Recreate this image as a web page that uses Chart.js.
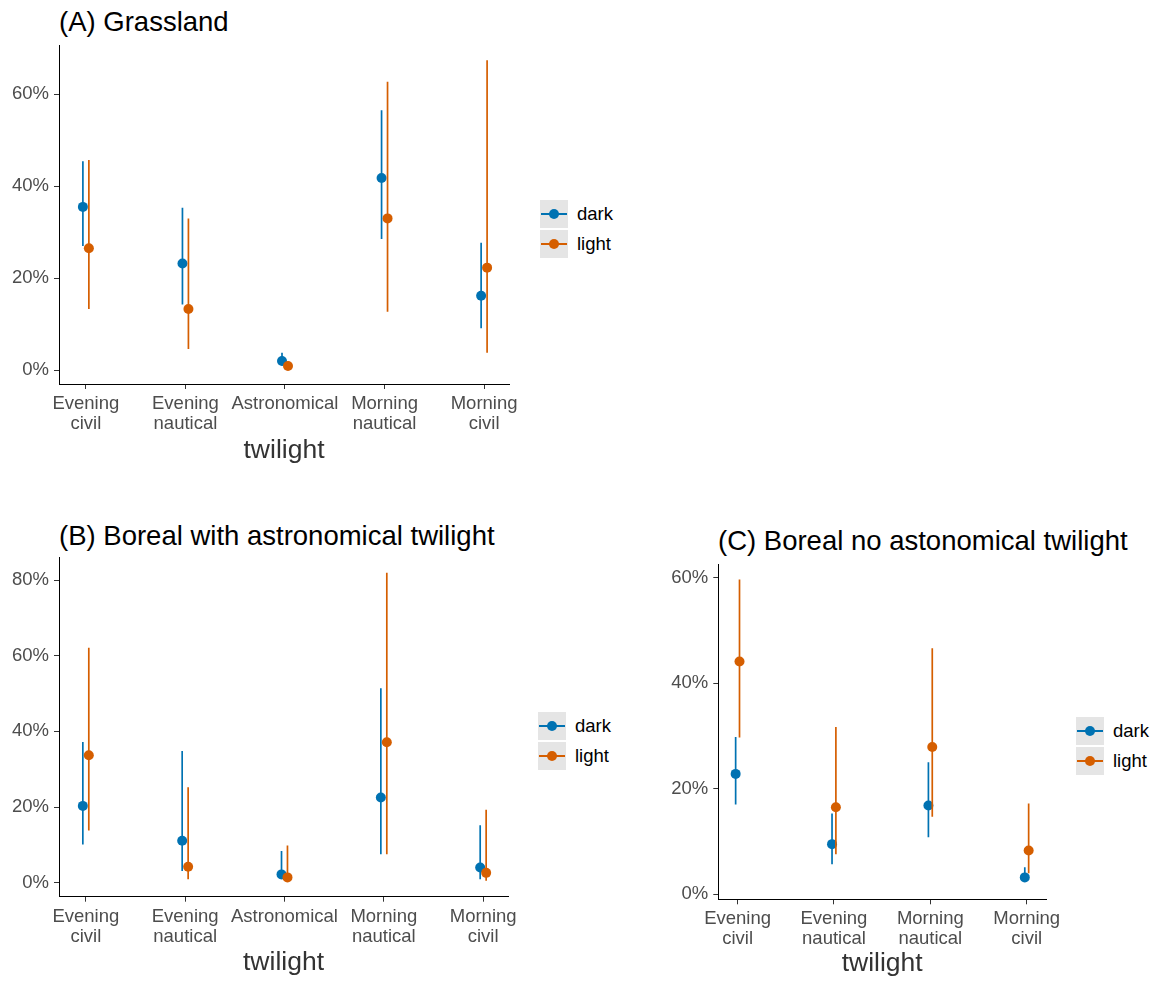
<!DOCTYPE html>
<html>
<head>
<meta charset="utf-8">
<script src="https://cdn.jsdelivr.net/npm/chart.js@4.4.1/dist/chart.umd.min.js"></script>
<style>
    body { margin: 0; background: #fff; }
    #page { position: relative; width: 1154px; height: 981px; overflow: hidden; font-family: "Liberation Sans", Arial, sans-serif; }
    canvas { position: absolute; }
    .title { position: absolute; font-size: 27.5px; line-height: 1; color: #000; white-space: nowrap; }
    .legend { position: absolute; }
    .legend-item { display: flex; align-items: center; height: 28px; margin-bottom: 2px; }
    .key { position: relative; width: 28px; height: 28px; background: #e5e5e5; }
    .key .kline { position: absolute; left: 1px; right: 1px; top: 13px; height: 2px; }
    .key .kdot { position: absolute; left: 9px; top: 9px; width: 10px; height: 10px; border-radius: 50%; }
    .legend-label { margin-left: 9px; font-size: 18.5px; color: #000; }
</style>
</head>
<body>
<div id="page">
    <div class="title" style="left:59px; top:8px;">(A) Grassland</div>
    <div class="title" style="left:59px; top:521.5px;">(B) Boreal with astronomical twilight</div>
    <div class="title" style="left:718px; top:527px;">(C) Boreal no astonomical twilight</div>

    <canvas id="chartA" width="530" height="475" style="left:0px; top:0px;"></canvas>
    <canvas id="chartB" width="530" height="481" style="left:0px; top:500px;"></canvas>
    <canvas id="chartC" width="420" height="441" style="left:650px; top:540px;"></canvas>

    <div class="legend" id="legendA" style="left:540px; top:200px;"></div>
    <div class="legend" id="legendB" style="left:538px; top:712px;"></div>
    <div class="legend" id="legendC" style="left:1076px; top:717px;"></div>
</div>

<script>
// categorias (eje x)
const twilightFive = [['Evening', 'civil'], ['Evening', 'nautical'], 'Astronomical', ['Morning', 'nautical'], ['Morning', 'civil']];
const twilightFour = [['Evening', 'civil'], ['Evening', 'nautical'], ['Morning', 'nautical'], ['Morning', 'civil']];

const groups = ['dark', 'light'];

// (A) Grassland, en %
const darkA = [35.5, 23.2, 2.0, 41.8, 16.2];
const darkALow = [27.0, 14.3, 1.0, 28.5, 9.1];
const darkAHigh = [45.4, 35.3, 3.8, 56.5, 27.7];
const lightA = [26.5, 13.3, 0.9, 33.0, 22.3];
const lightALow = [13.3, 4.6, 0.3, 12.7, 3.8];
const lightAHigh = [45.7, 33.0, 1.9, 62.7, 67.4];

// (B) Boreal with astronomical twilight
const darkB = [20.3, 11.1, 2.2, 22.5, 4.0];
const darkBLow = [10.1, 3.1, 1.1, 7.5, 0.9];
const darkBHigh = [37.2, 34.8, 8.4, 51.4, 15.2];
const lightB = [33.7, 4.2, 1.4, 37.1, 2.6];
const lightBLow = [13.8, 0.9, 0.5, 7.5, 0.5];
const lightBHigh = [62.1, 25.2, 9.8, 81.9, 19.3];

// (C) Boreal no astronomical twilight
const darkC = [22.8, 9.5, 16.8, 3.2];
const darkCLow = [17.0, 5.7, 10.8, 2.4];
const darkCHigh = [29.8, 15.3, 25.0, 5.1];
const lightC = [44.1, 16.5, 27.9, 8.3];
const lightCLow = [29.7, 7.6, 14.7, 4.0];
const lightCHigh = [59.6, 31.7, 46.6, 17.2];

// ticks del eje y
const yTicksA = [0, 20, 40, 60];
const yTicksB = [0, 20, 40, 60, 80];
const yTicksC = [0, 20, 40, 60];

const colors = { dark: '#0072B2', light: '#D55E00' };
const fontFamily = '"Liberation Sans", Arial, sans-serif';

function pointData(values, shift) {
    return values.map((v, i) => ({ x: i + 1 + shift, y: v }));
}

function rangeData(low, high, shift) {
    const data = [];
    low.forEach((lo, i) => {
        data.push({ x: i + 1 + shift, y: lo });
        data.push({ x: i + 1 + shift, y: high[i] });
        data.push({ x: i + 1 + shift, y: null });
    });
    return data;
}

function buildDatasets(series, shift) {
    // orden de dibujo: dark (barra, punto) y luego light encima
    const sets = [];
    series.forEach((s, k) => {
        const off = k === 0 ? -shift : shift;
        const color = colors[s.name];
        sets.push({
            data: rangeData(s.low, s.high, off),
            showLine: true,
            borderColor: color,
            borderWidth: 1.7,
            pointRadius: 0,
            spanGaps: false,
            order: 4 - k * 2
        });
        sets.push({
            data: pointData(s.values, off),
            showLine: false,
            backgroundColor: color,
            borderColor: color,
            borderWidth: 0,
            pointRadius: 5,
            order: 3 - k * 2
        });
    });
    return sets;
}

function createPanel(id, cfg) {
    const ctx = document.getElementById(id).getContext('2d');
    const axisFont = { family: fontFamily, size: 18.5, lineHeight: 1.08 };
    return new Chart(ctx, {
        type: 'scatter',
        data: { datasets: buildDatasets(cfg.series, cfg.shift) },
        options: {
            responsive: false,
            animation: false,
            events: [],
            layout: { padding: cfg.padding },
            plugins: { legend: { display: false }, tooltip: { enabled: false }, title: { display: false } },
            scales: {
                x: {
                    type: 'linear',
                    min: cfg.xRange[0],
                    max: cfg.xRange[1],
                    afterBuildTicks: scale => { scale.ticks = cfg.labels.map((_, i) => ({ value: i + 1 })); },
                    afterFit: scale => { scale.height = cfg.xHeight; },
                    ticks: {
                        callback: value => cfg.labels[value - 1],
                        color: '#4d4d4d',
                        font: axisFont,
                        padding: 5,
                        maxRotation: 0,
                        autoSkip: false
                    },
                    grid: { drawOnChartArea: false, drawTicks: true, tickLength: 5, color: '#333', lineWidth: 1 },
                    border: { display: true, color: '#000', width: 1 },
                    title: {
                        display: true,
                        text: 'twilight',
                        color: '#333',
                        font: { family: fontFamily, size: 26.5 },
                        padding: { top: 0, bottom: cfg.titlePad }
                    }
                },
                y: {
                    min: cfg.yRange[0],
                    max: cfg.yRange[1],
                    afterBuildTicks: scale => { scale.ticks = cfg.yTicks.map(v => ({ value: v })); },
                    afterFit: scale => { scale.width = cfg.yWidth; },
                    ticks: {
                        callback: value => value + '%',
                        color: '#4d4d4d',
                        font: axisFont,
                        padding: 5
                    },
                    grid: { drawOnChartArea: false, drawTicks: true, tickLength: 5, color: '#333', lineWidth: 1 },
                    border: { display: true, color: '#000', width: 1 }
                }
            }
        }
    });
}

function renderLegend(id) {
    const box = document.getElementById(id);
    groups.forEach(g => {
        const item = document.createElement('div');
        item.className = 'legend-item';
        item.innerHTML = `
            <span class="key"><span class="kline" style="background:${colors[g]}"></span><span class="kdot" style="background:${colors[g]}"></span></span>
            <span class="legend-label">${g}</span>
        `;
        box.appendChild(item);
    });
}

createPanel('chartA', {
    labels: twilightFive,
    series: [
        { name: 'dark', values: darkA, low: darkALow, high: darkAHigh },
        { name: 'light', values: lightA, low: lightALow, high: lightAHigh }
    ],
    shift: 0.03,
    xRange: [0.73, 5.25],
    yRange: [-3.0, 70.7],
    yTicks: yTicksA,
    padding: { top: 45, right: 21, left: 0, bottom: 0 },
    yWidth: 59,
    xHeight: 91,
    titlePad: 8.4
});

createPanel('chartB', {
    labels: twilightFive,
    series: [
        { name: 'dark', values: darkB, low: darkBLow, high: darkBHigh },
        { name: 'light', values: lightB, low: lightBLow, high: lightBHigh }
    ],
    shift: 0.03,
    xRange: [0.73, 5.25],
    yRange: [-3.7, 85.9],
    yTicks: yTicksB,
    padding: { top: 57.7, right: 22, left: 0, bottom: 0 },
    yWidth: 59,
    xHeight: 84.3,
    titlePad: 2.7
});

createPanel('chartC', {
    labels: twilightFour,
    series: [
        { name: 'dark', values: darkC, low: darkCLow, high: darkCHigh },
        { name: 'light', values: lightC, low: lightCLow, high: lightCHigh }
    ],
    shift: 0.02,
    xRange: [0.80, 4.20],
    yRange: [-0.95, 62.5],
    yTicks: yTicksC,
    padding: { top: 24.3, right: 24, left: 0, bottom: 0 },
    yWidth: 68.3,
    xHeight: 81.7,
    titlePad: 1.1
});

renderLegend('legendA');
renderLegend('legendB');
renderLegend('legendC');
</script>
</body>
</html>
